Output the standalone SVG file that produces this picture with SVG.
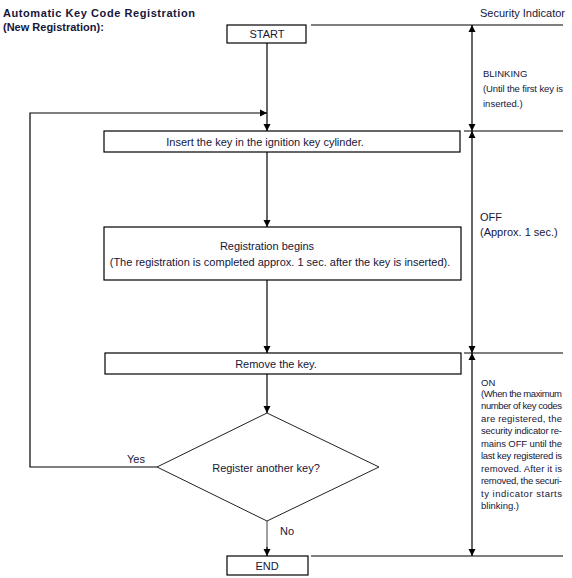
<svg xmlns="http://www.w3.org/2000/svg" width="572" height="578" viewBox="0 0 572 578">
<defs>
<marker id="ah" viewBox="0 0 10 10" refX="10" refY="5" markerWidth="7" markerHeight="8" markerUnits="userSpaceOnUse" orient="auto-start-reverse">
<path d="M0,0 L10,5 L0,10 z" fill="#000"/>
</marker>
<style>
text{font-family:"Liberation Sans",Arial,sans-serif;fill:#16163a;}
.t{font-size:11px;}
.b{font-size:11px;font-weight:bold;}
.s{font-size:9.5px;}
.box{fill:#fff;stroke:#000;stroke-width:1.2;}
.ln{fill:none;stroke:#000;stroke-width:1.2;}
.gray{fill:none;stroke:#a0a0a0;stroke-width:2;}
</style>
</defs>
<rect width="572" height="578" fill="#fff"/>

<g id="title">
<text class="b" x="3" y="17" textLength="192" lengthAdjust="spacing">Automatic Key Code Registration</text>
<text class="b" x="3" y="31">(New Registration):</text>
</g>

<g id="connectors">
<line class="ln" x1="267" y1="43" x2="267" y2="131" marker-end="url(#ah)"/>
<polyline class="ln" points="157,467 30,467 30,113 267,113" marker-end="url(#ah)"/>
<line class="ln" x1="267" y1="152" x2="267" y2="227" marker-end="url(#ah)"/>
<line class="ln" x1="267" y1="280" x2="267" y2="353" marker-end="url(#ah)"/>
<line class="ln" x1="267" y1="374" x2="267" y2="413" marker-end="url(#ah)"/>
<line class="gray" x1="267" y1="521" x2="267" y2="549"/>
<line class="ln" x1="267" y1="547" x2="267" y2="556" marker-end="url(#ah)"/>
</g>

<g id="indicator">
<line class="ln" x1="311" y1="25" x2="563" y2="25"/>
<line class="ln" x1="464" y1="131" x2="563" y2="131"/>
<line class="ln" x1="464" y1="353" x2="563" y2="353"/>
<line class="ln" x1="311" y1="556" x2="563" y2="556"/>
<line class="ln" x1="472" y1="25" x2="472" y2="131" marker-start="url(#ah)" marker-end="url(#ah)"/>
<line class="ln" x1="472" y1="131" x2="472" y2="353" marker-start="url(#ah)" marker-end="url(#ah)"/>
<line class="ln" x1="472" y1="353" x2="472" y2="556" marker-start="url(#ah)" marker-end="url(#ah)"/>
<text class="t" x="480" y="17">Security Indicator</text>
<text class="s" x="483" y="77">BLINKING</text>
<text class="s" x="483" y="92" textLength="80" lengthAdjust="spacing">(Until the first key is</text>
<text class="s" x="483" y="107">inserted.)</text>
<text class="t" x="480" y="221">OFF</text>
<text class="t" x="480" y="236">(Approx. 1 sec.)</text>
<text class="s" x="481" y="386">ON</text>
<text class="s" x="481" y="397" textLength="81" lengthAdjust="spacing">(When the maximum</text>
<text class="s" x="481" y="409" textLength="81" lengthAdjust="spacing">number of key codes</text>
<text class="s" x="481" y="422" textLength="81" lengthAdjust="spacing">are registered, the</text>
<text class="s" x="481" y="434" textLength="81" lengthAdjust="spacing">security indicator re-</text>
<text class="s" x="481" y="447" textLength="81" lengthAdjust="spacing">mains OFF until the</text>
<text class="s" x="481" y="459" textLength="81" lengthAdjust="spacing">last key registered is</text>
<text class="s" x="481" y="472" textLength="81" lengthAdjust="spacing">removed. After it is</text>
<text class="s" x="481" y="484" textLength="81" lengthAdjust="spacing">removed, the securi-</text>
<text class="s" x="481" y="497" textLength="81" lengthAdjust="spacing">ty indicator starts</text>
<text class="s" x="481" y="509">blinking.)</text>
</g>

<g id="start">
<rect class="box" x="227" y="25" width="79" height="18"/>
<text class="t" x="267" y="38" text-anchor="middle">START</text>
</g>

<g id="insert">
<rect class="box" x="104" y="131" width="356" height="21"/>
<text class="t" x="265" y="146" text-anchor="middle">Insert the key in the ignition key cylinder.</text>
</g>

<g id="registration">
<rect class="box" x="104" y="227" width="357" height="53"/>
<text class="t" x="267" y="250" text-anchor="middle">Registration begins</text>
<text class="t" x="280" y="266" text-anchor="middle">(The registration is completed approx. 1 sec. after the key is inserted).</text>
</g>

<g id="remove">
<rect class="box" x="105" y="353" width="356" height="21"/>
<text class="t" x="276" y="368" text-anchor="middle">Remove the key.</text>
</g>

<g id="decision">
<polygon points="267,413 379,467 267,521 157,467" fill="#fff" stroke="#222" stroke-width="1"/>
<text class="t" x="266" y="472" text-anchor="middle">Register another key?</text>
<text class="t" x="127" y="463">Yes</text>
<text class="t" x="280" y="535">No</text>
</g>

<g id="end">
<rect class="box" x="227" y="556" width="81" height="19"/>
<text class="t" x="267" y="570" text-anchor="middle">END</text>
</g>
</svg>
